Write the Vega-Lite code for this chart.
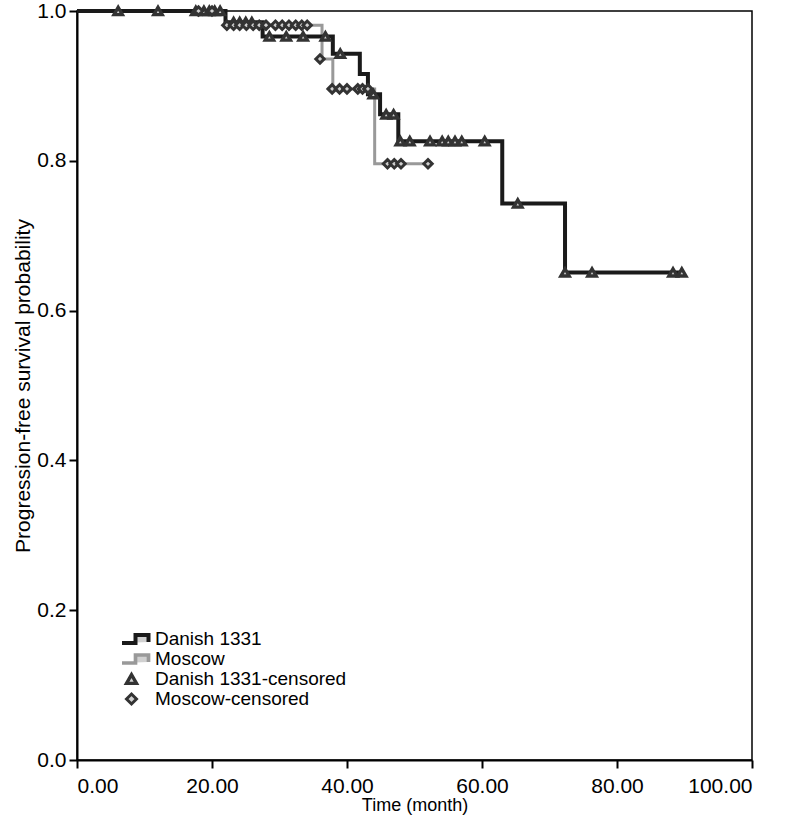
{
  "$schema": "https://vega.github.io/schema/vega-lite/v6.json",
  "width": 675,
  "height": 749,
  "autosize": "none",
  "padding": {"left": 77, "top": 11, "right": 35, "bottom": 65},
  "background": "white",
  "config": {
    "font": "Liberation Sans",
    "view": {"stroke": "#000000", "strokeWidth": 1.5},
    "axis": {
      "grid": false,
      "domainColor": "#000000",
      "domainWidth": 2,
      "tickColor": "#000000",
      "tickWidth": 2,
      "tickSize": 8,
      "labelColor": "#000000",
      "labelFont": "Liberation Sans",
      "labelFontSize": 21,
      "titleFont": "Liberation Sans",
      "titleFontWeight": "normal",
      "titleColor": "#000000"
    }
  },
  "datasets": {
    "curve": [
      {"series": "Danish 1331", "t": 0, "s": 1.0},
      {"series": "Danish 1331", "t": 22.0, "s": 0.985},
      {"series": "Danish 1331", "t": 27.5, "s": 0.966},
      {"series": "Danish 1331", "t": 37.9, "s": 0.943},
      {"series": "Danish 1331", "t": 41.9, "s": 0.916},
      {"series": "Danish 1331", "t": 43.1, "s": 0.889},
      {"series": "Danish 1331", "t": 44.9, "s": 0.862},
      {"series": "Danish 1331", "t": 47.6, "s": 0.826},
      {"series": "Danish 1331", "t": 63.0, "s": 0.743},
      {"series": "Danish 1331", "t": 72.3, "s": 0.651},
      {"series": "Danish 1331", "t": 89.6, "s": 0.651},
      {"series": "Moscow", "t": 0, "s": 1.0},
      {"series": "Moscow", "t": 22.0, "s": 0.981},
      {"series": "Moscow", "t": 36.3, "s": 0.936},
      {"series": "Moscow", "t": 37.9, "s": 0.896},
      {"series": "Moscow", "t": 44.1, "s": 0.796},
      {"series": "Moscow", "t": 52.0, "s": 0.796}
    ],
    "cens": [
      {"group": "Danish 1331-censored", "t": 6.1, "s": 1.0},
      {"group": "Danish 1331-censored", "t": 12.0, "s": 1.0},
      {"group": "Danish 1331-censored", "t": 17.6, "s": 1.0},
      {"group": "Danish 1331-censored", "t": 18.8, "s": 1.0},
      {"group": "Danish 1331-censored", "t": 19.6, "s": 1.0},
      {"group": "Danish 1331-censored", "t": 20.4, "s": 1.0},
      {"group": "Danish 1331-censored", "t": 21.2, "s": 1.0},
      {"group": "Danish 1331-censored", "t": 23.2, "s": 0.985},
      {"group": "Danish 1331-censored", "t": 24.1, "s": 0.985},
      {"group": "Danish 1331-censored", "t": 25.0, "s": 0.985},
      {"group": "Danish 1331-censored", "t": 25.9, "s": 0.985},
      {"group": "Danish 1331-censored", "t": 28.5, "s": 0.966},
      {"group": "Danish 1331-censored", "t": 31.0, "s": 0.966},
      {"group": "Danish 1331-censored", "t": 33.5, "s": 0.966},
      {"group": "Danish 1331-censored", "t": 36.8, "s": 0.966},
      {"group": "Danish 1331-censored", "t": 39.0, "s": 0.943},
      {"group": "Danish 1331-censored", "t": 43.9, "s": 0.889},
      {"group": "Danish 1331-censored", "t": 45.8, "s": 0.862},
      {"group": "Danish 1331-censored", "t": 46.9, "s": 0.862},
      {"group": "Danish 1331-censored", "t": 47.9, "s": 0.826},
      {"group": "Danish 1331-censored", "t": 49.3, "s": 0.826},
      {"group": "Danish 1331-censored", "t": 52.3, "s": 0.826},
      {"group": "Danish 1331-censored", "t": 54.1, "s": 0.826},
      {"group": "Danish 1331-censored", "t": 55.0, "s": 0.826},
      {"group": "Danish 1331-censored", "t": 56.0, "s": 0.826},
      {"group": "Danish 1331-censored", "t": 57.0, "s": 0.826},
      {"group": "Danish 1331-censored", "t": 60.4, "s": 0.826},
      {"group": "Danish 1331-censored", "t": 65.3, "s": 0.743},
      {"group": "Danish 1331-censored", "t": 72.3, "s": 0.651},
      {"group": "Danish 1331-censored", "t": 76.3, "s": 0.651},
      {"group": "Danish 1331-censored", "t": 88.3, "s": 0.651},
      {"group": "Danish 1331-censored", "t": 89.6, "s": 0.651},
      {"group": "Moscow-censored", "t": 18.0, "s": 1.0},
      {"group": "Moscow-censored", "t": 20.0, "s": 1.0},
      {"group": "Moscow-censored", "t": 22.2, "s": 0.981},
      {"group": "Moscow-censored", "t": 23.2, "s": 0.981},
      {"group": "Moscow-censored", "t": 24.1, "s": 0.981},
      {"group": "Moscow-censored", "t": 25.1, "s": 0.981},
      {"group": "Moscow-censored", "t": 26.1, "s": 0.981},
      {"group": "Moscow-censored", "t": 27.0, "s": 0.981},
      {"group": "Moscow-censored", "t": 28.0, "s": 0.981},
      {"group": "Moscow-censored", "t": 29.4, "s": 0.981},
      {"group": "Moscow-censored", "t": 30.4, "s": 0.981},
      {"group": "Moscow-censored", "t": 31.4, "s": 0.981},
      {"group": "Moscow-censored", "t": 32.4, "s": 0.981},
      {"group": "Moscow-censored", "t": 33.3, "s": 0.981},
      {"group": "Moscow-censored", "t": 34.1, "s": 0.981},
      {"group": "Moscow-censored", "t": 36.0, "s": 0.936},
      {"group": "Moscow-censored", "t": 37.8, "s": 0.896},
      {"group": "Moscow-censored", "t": 38.9, "s": 0.896},
      {"group": "Moscow-censored", "t": 40.0, "s": 0.896},
      {"group": "Moscow-censored", "t": 41.6, "s": 0.896},
      {"group": "Moscow-censored", "t": 42.3, "s": 0.896},
      {"group": "Moscow-censored", "t": 43.1, "s": 0.896},
      {"group": "Moscow-censored", "t": 46.0, "s": 0.796},
      {"group": "Moscow-censored", "t": 47.0, "s": 0.796},
      {"group": "Moscow-censored", "t": 48.0, "s": 0.796},
      {"group": "Moscow-censored", "t": 52.0, "s": 0.796}
    ]
  },
  "encoding": {
    "x": {
      "field": "t",
      "type": "quantitative",
      "scale": {"domain": [0, 100], "nice": false},
      "axis": {"values": [0, 20, 40, 60, 80, 100], "format": ".2f", "title": "Time (month)", "titleFontSize": 18, "labelPadding": 7, "titlePadding": 0}
    },
    "y": {
      "field": "s",
      "type": "quantitative",
      "scale": {"domain": [0, 1], "nice": false},
      "axis": {"values": [0, 0.2, 0.4, 0.6, 0.8, 1.0], "format": ".1f", "title": "Progression-free survival probability", "titleFontSize": 21, "labelPadding": 3, "titlePadding": 3}
    }
  },
  "layer": [
    {
      "data": {"name": "curve"},
      "transform": [{"filter": "datum.series === 'Moscow'"}],
      "mark": {"type": "line", "interpolate": "step-after", "color": "#999999", "strokeWidth": 3}
    },
    {
      "data": {"name": "curve"},
      "transform": [{"filter": "datum.series === 'Danish 1331'"}],
      "mark": {"type": "line", "interpolate": "step-after", "color": "#1a1a1a", "strokeWidth": 4}
    },
    {
      "data": {"name": "cens"},
      "mark": {"type": "point", "filled": false, "size": 70, "opacity": 1, "fill": "#d0d0d0"},
      "encoding": {
        "shape": {
          "field": "group",
          "type": "nominal",
          "scale": {
            "domain": ["Danish 1331", "Moscow", "Danish 1331-censored", "Moscow-censored"],
            "range": ["M-2.6,0.8L0.8,0.8L0.8,-0.8L3.4,-0.8L3.4,0.6", "M-2.6,0.8L0.8,0.8L0.8,-0.8L3.4,-0.8L3.4,0.6", "triangle-up", "diamond"]
          },
          "legend": {
            "title": null,
            "orient": "none",
            "legendX": 45,
            "legendY": 618,
            "labelFontSize": 19,
            "labelFont": "Liberation Sans",
            "labelColor": "#000000",
            "labelLimit": 0,
            "labelOffset": 14,
            "rowPadding": 0,
            "clipHeight": 20,
            "symbolSize": 100
          }
        },
        "color": {
          "field": "group",
          "type": "nominal",
          "scale": {
            "domain": ["Danish 1331", "Moscow", "Danish 1331-censored", "Moscow-censored"],
            "range": ["#1a1a1a", "#999999", "#333333", "#333333"]
          }
        },
        "strokeWidth": {
          "field": "group",
          "type": "nominal",
          "scale": {
            "domain": ["Danish 1331", "Moscow", "Danish 1331-censored", "Moscow-censored"],
            "range": [4, 3, 1.5, 1.5]
          }
        }
      }
    },
    {
      "data": {"values": [{}]},
      "mark": {"type": "text", "text": "p", "fontStyle": "italic", "fontSize": 19, "align": "left", "baseline": "alphabetic", "color": "#000000"},
      "encoding": {"x": {"datum": 80.5}, "y": {"datum": 0.068}}
    },
    {
      "data": {"values": [{}]},
      "mark": {"type": "text", "text": "=0.703", "fontSize": 19, "align": "left", "baseline": "alphabetic", "color": "#000000"},
      "encoding": {"x": {"datum": 82.1}, "y": {"datum": 0.068}}
    }
  ]
}
